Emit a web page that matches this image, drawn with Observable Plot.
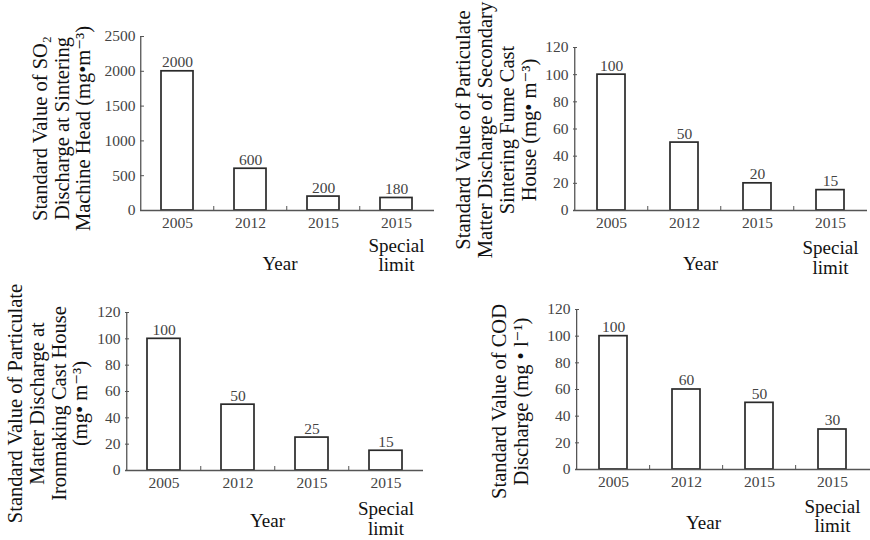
<!DOCTYPE html>
<html>
<head>
<meta charset="utf-8">
<script src="https://cdn.jsdelivr.net/npm/d3@7"></script>
<script src="https://cdn.jsdelivr.net/npm/@observablehq/plot@0.6"></script>
<style>
  html, body { margin: 0; padding: 0; background: #fff; }
  #wrap { position: relative; width: 870px; height: 540px; overflow: hidden; background: #fff; }
</style>
</head>
<body>
<div id="wrap"></div>
<script>
// ---- data ----
const categories = ["2005", "2012", "2015", "2015 Special limit"];
const tickLabels = ["2005", "2012", "2015", "2015"];
const specialLabel = "Special\nlimit";
const xTitle = "Year";

const so2Values = [2000, 600, 200, 180];
const sinterPMValues = [100, 50, 20, 15];
const ironPMValues = [100, 50, 25, 15];
const codValues = [100, 60, 50, 30];

const so2Ticks = [0, 500, 1000, 1500, 2000, 2500];
const pmTicks = [0, 20, 40, 60, 80, 100, 120];

const so2Title = ["Standard Value of SO₂", "Discharge at Sintering", "Machine Head (mg•m⁻³)"];
const sinterTitle = ["Standard Value of Particulate", "Matter Discharge of Secondary", "Sintering Fume Cast", "House (mg• m⁻³)"];
const ironTitle = ["Standard Value of Particulate", "Matter Discharge at", "Ironmaking Cast House", "(mg• m⁻³)"];
const codTitle = ["Standard Value of COD", "Discharge (mg • l⁻¹)"];

// ---- layout ----
const panels = [
  {values: so2Values, ticks: so2Ticks, title: so2Title, left: 0, top: 0, w: 440, h: 270, mL: 140, mT: 36, mB: 60, mR: 6, pi: 0.56, tDx: -79, tDy: 5, yDx: -7.5, yDy: 53, sDy: 45, sLH: 1.02},
  {values: sinterPMValues, ticks: pmTicks, title: sinterTitle, left: 440, top: 0, w: 430, h: 270, mL: 133, mT: 47, mB: 60, mR: 3, pi: 0.62, tDx: -77.5, tDy: 1, yDx: -20, yDy: 53, sDy: 47, sLH: 1.05},
  {values: ironPMValues, ticks: pmTicks, title: ironTitle, left: 0, top: 270, w: 440, h: 270, mL: 125, mT: 42, mB: 70, mR: 17, pi: 0.56, tDx: -78, tDy: 12, yDx: -7, yDy: 50, sDy: 48, sLH: 1.05},
  {values: codValues, ticks: pmTicks, title: codTitle, left: 440, top: 270, w: 430, h: 270, mL: 135, mT: 39, mB: 71, mR: 0, pi: 0.615, tDx: -66, tDy: 12, yDx: -19.5, yDy: 53, sDy: 47, sLH: 1.02}
];

const tickMap = new Map(categories.map((c, i) => [c, tickLabels[i]]));
const FONT = "'Liberation Serif', 'Times New Roman', 'DejaVu Serif', serif";
const GRAY = "#444";
const LINE = "#555";

function panel(cfg) {
  const fw = cfg.w - cfg.mL - cfg.mR;
  const fh = cfg.h - cfg.mT - cfg.mB;
  const step = fw / categories.length;
  const data = categories.map((c, i) => ({cat: c, value: cfg.values[i]}));
  const top = cfg.ticks[cfg.ticks.length - 1];
  return Plot.plot({
    width: cfg.w,
    height: cfg.h,
    marginLeft: cfg.mL,
    marginRight: cfg.mR,
    marginTop: cfg.mT,
    marginBottom: cfg.mB,
    style: {fontFamily: FONT, fontSize: "15.5px", color: GRAY, background: "transparent", overflow: "visible"},
    x: {domain: categories, paddingInner: cfg.pi, paddingOuter: cfg.pi / 2},
    y: {domain: [0, top]},
    marks: [
      Plot.axisX({tickSize: 0, tickPadding: 6, tickFormat: d => tickMap.get(d), label: null, fill: GRAY}),
      Plot.axisY(cfg.ticks, {tickSize: 0, tickPadding: 5, tickFormat: d => String(d), label: null, fill: GRAY}),
      Plot.barY(data, {x: "cat", y: "value", fill: "white", stroke: "#2a2a2a", strokeWidth: 1.7}),
      Plot.ruleY([0], {stroke: LINE, strokeWidth: 1.5}),
      Plot.ruleX([categories[0]], {x: d => d, dx: -step / 2, stroke: LINE, strokeWidth: 1.3}),
      Plot.ruleX(categories.slice(1), {x: d => d, dx: -step / 2, insetTop: fh - 4, stroke: LINE, strokeWidth: 1}),
      Plot.tickY(cfg.ticks.slice(1), {y: d => d, insetRight: fw - 4, stroke: LINE, strokeWidth: 1}),
      Plot.text(data, {x: "cat", y: "value", text: d => String(d.value), dy: -9, fill: GRAY, fontSize: 15.5}),
      Plot.text([specialLabel], {x: () => categories[3], text: d => d, frameAnchor: "bottom", lineAnchor: "middle", dy: cfg.sDy, fontSize: 19, lineHeight: cfg.sLH, fill: "#111"}),
      Plot.text([xTitle], {text: d => d, frameAnchor: "bottom", lineAnchor: "middle", dx: cfg.yDx, dy: cfg.yDy, fontSize: 19, fill: "#111"}),
      Plot.text([cfg.title.join("\n")], {text: d => d, frameAnchor: "left", textAnchor: "middle", lineAnchor: "middle", rotate: -90, dx: cfg.tDx, dy: cfg.tDy, fontSize: 20.5, lineHeight: 1.07, fill: "#111"})
    ]
  });
}

const wrap = document.getElementById("wrap");
for (const cfg of panels) {
  const el = panel(cfg);
  el.style.position = "absolute";
  el.style.left = cfg.left + "px";
  el.style.top = cfg.top + "px";
  wrap.appendChild(el);
}
</script>
</body>
</html>
